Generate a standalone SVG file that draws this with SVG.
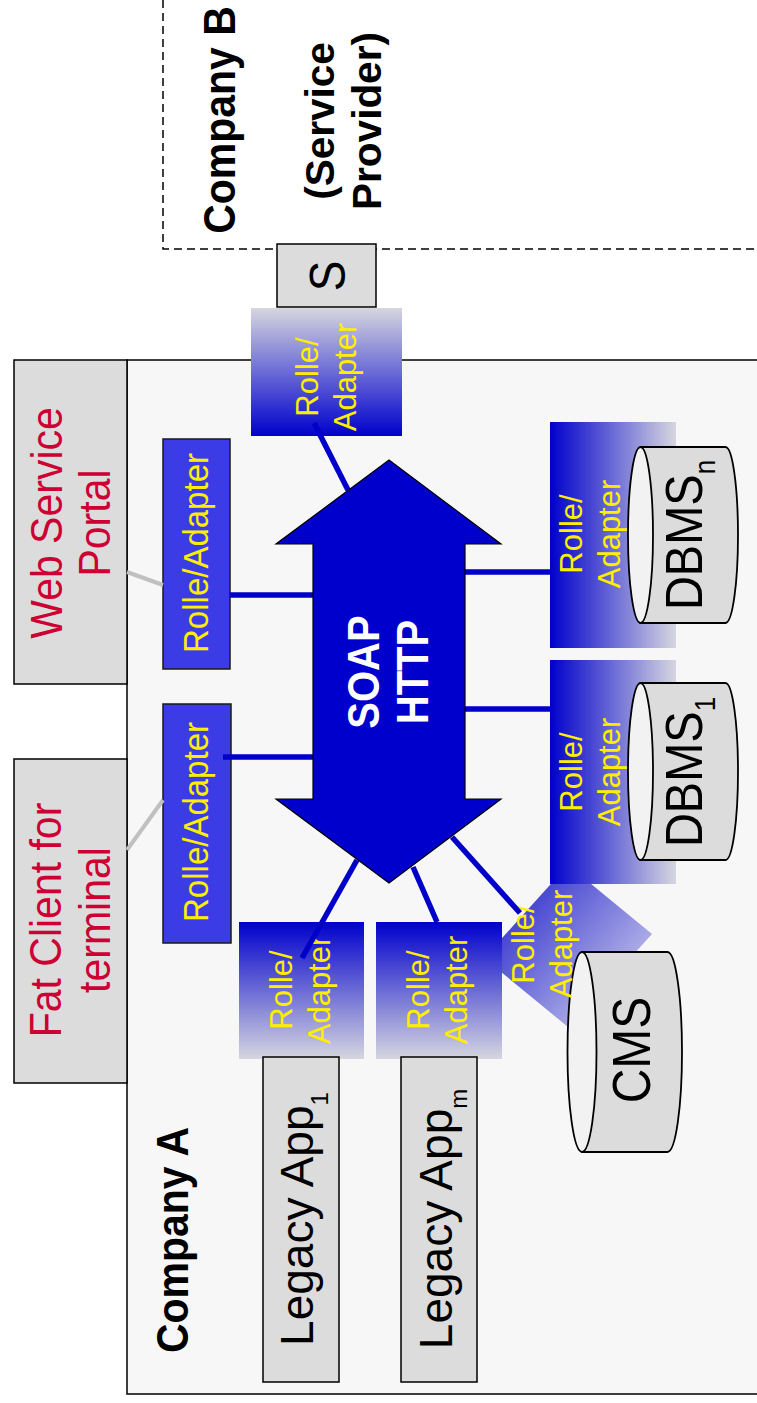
<svg xmlns="http://www.w3.org/2000/svg" width="757" height="1403" viewBox="0 0 757 1403">
<defs>
<linearGradient id="gTopLight" x1="0" y1="0" x2="0" y2="1"><stop offset="0" stop-color="#d6d6e0"/><stop offset="1" stop-color="#0000cc"/></linearGradient>
<linearGradient id="gTopBlue" x1="0" y1="0" x2="0" y2="1"><stop offset="0" stop-color="#0000cc"/><stop offset="1" stop-color="#d6d6e0"/></linearGradient>
<linearGradient id="gLeftBlue" x1="0" y1="0" x2="1" y2="0"><stop offset="0" stop-color="#0000cc"/><stop offset="1" stop-color="#d6d6e0"/></linearGradient>
<linearGradient id="gCms" gradientUnits="userSpaceOnUse" x1="526" y1="911" x2="610" y2="981"><stop offset="0" stop-color="#4848d2"/><stop offset="1" stop-color="#a8a8e6"/></linearGradient>
</defs>
<style>
text{font-family:"Liberation Sans",Arial,sans-serif;}
.b{font-weight:bold}
.mid{text-anchor:middle}
.box{fill:#dcdcdc;stroke:#000;stroke-width:1.5}
.rsolid{fill:#3c3ce6;stroke:#1a1a1a;stroke-width:1.5}
.ry{fill:#ffee00;font-size:31px;text-anchor:middle}
.rys{fill:#ffee00;font-size:33px;text-anchor:middle}
.blue{stroke:#0000c8;stroke-width:5.5;fill:none}
.gray{stroke:#c0c0c0;stroke-width:4;fill:none}
.cyl{fill:#dcdcdc;stroke:#000;stroke-width:1.8}
.face{fill:#f2f2f2;stroke:#000;stroke-width:1.8}
.red{fill:#cc0033;font-size:41px;text-anchor:middle}
.big{fill:#000;text-anchor:middle}
</style>

<g id="companyA">
<rect x="127" y="360" width="640" height="1034" fill="#f7f7f7" stroke="#000" stroke-width="1.5"/>
<text class="b mid" font-size="41" transform="translate(188,1240) rotate(-90) scale(1,1.1)">Company A</text>
</g>

<g id="companyB">
<path d="M163,0 V249 H757" fill="none" stroke="#000" stroke-width="1.5" stroke-dasharray="8 5"/>
<text class="b mid" font-size="41" transform="translate(235,120) rotate(-90) scale(1,1.1)">Company B</text>
<text class="b mid" font-size="40.5" transform="translate(334,121) rotate(-90)"><tspan x="0" y="0">(Service</tspan><tspan x="0" y="47">Provider)</tspan></text>
</g>

<g id="s">
<rect class="box" x="277" y="244" width="99" height="63"/>
<text class="big" font-size="46" transform="translate(345,276) rotate(-90) scale(1,1.08)">S</text>
</g>

<g id="webServicePortal">
<rect class="box" x="14" y="360" width="113" height="324"/>
<text class="red" transform="translate(62,523) rotate(-90) scale(1,1.08)"><tspan x="0" y="0">Web Service</tspan><tspan x="0" y="44.5">Portal</tspan></text>
</g>

<g id="fatClient">
<rect class="box" x="14" y="759" width="113" height="324"/>
<text class="red" transform="translate(61,920) rotate(-90) scale(1,1.08)"><tspan x="0" y="0">Fat Client for</tspan><tspan x="0" y="45.5">terminal</tspan></text>
</g>

<g id="rollePortal">
<rect class="rsolid" x="163" y="439" width="67" height="230"/>
<text class="rys" transform="translate(208,553) rotate(-90) scale(1,1.06)">Rolle/Adapter</text>
</g>

<g id="rolleFat">
<rect class="rsolid" x="163" y="704" width="68" height="239"/>
<text class="rys" transform="translate(208,822) rotate(-90) scale(1,1.06)">Rolle/Adapter</text>
</g>

<g id="rolleCms">
<polygon points="568,865 652,934 568,1027 484,958" fill="url(#gCms)"/>
</g>

<g id="rolleS">
<rect x="251" y="308" width="151" height="128" fill="url(#gTopLight)"/>
<text class="ry" transform="translate(318,377) rotate(-90)"><tspan x="0" y="0">Rolle/</tspan><tspan x="0" y="38">Adapter</tspan></text>
</g>

<g id="rolleDbmsN">
<rect x="550" y="422" width="126" height="226" fill="url(#gLeftBlue)"/>
<text class="ry" transform="translate(582,534) rotate(-90)"><tspan x="0" y="0">Rolle/</tspan><tspan x="0" y="38">Adapter</tspan></text>
</g>

<g id="rolleDbms1">
<rect x="550" y="660" width="126" height="224" fill="url(#gLeftBlue)"/>
<text class="ry" transform="translate(582,772) rotate(-90)"><tspan x="0" y="0">Rolle/</tspan><tspan x="0" y="38">Adapter</tspan></text>
</g>

<g id="rolleLegacy1">
<rect x="239" y="922" width="125" height="137" fill="url(#gTopBlue)"/>
<text class="ry" transform="translate(292,990) rotate(-90)"><tspan x="0" y="0">Rolle/</tspan><tspan x="0" y="38">Adapter</tspan></text>
</g>

<g id="rolleLegacyM">
<rect x="376" y="922" width="126" height="137" fill="url(#gTopBlue)"/>
<text class="ry" transform="translate(429,990) rotate(-90)"><tspan x="0" y="0">Rolle/</tspan><tspan x="0" y="38">Adapter</tspan></text>
</g>

<g id="dbmsN">
<path class="cyl" d="M640.5,447 H725.5 A12.5,88 0 0 1 725.5,623 H640.5 Z"/>
<ellipse class="face" cx="640.5" cy="535" rx="12.5" ry="88"/>
<text class="big" font-size="47" transform="translate(702,535) rotate(-90) scale(1,1.1)">DBMS<tspan font-size="26" dy="12">n</tspan></text>
</g>

<g id="dbms1">
<path class="cyl" d="M640.5,683 H725.5 A12.5,88.5 0 0 1 725.5,860 H640.5 Z"/>
<ellipse class="face" cx="640.5" cy="771.5" rx="12.5" ry="88.5"/>
<text class="big" font-size="47" transform="translate(702,772) rotate(-90) scale(1,1.1)">DBMS<tspan font-size="26" dy="12">1</tspan></text>
</g>

<g id="cms">
<path class="cyl" d="M582,952 H667.5 A14.5,100 0 0 1 667.5,1152 H582 Z"/>
<ellipse class="face" cx="582" cy="1052" rx="14.5" ry="100"/>
<text class="big" font-size="48" transform="translate(650,1050) rotate(-90) scale(1,1.1)">CMS</text>
</g>

<g id="rolleCmsText">
<text class="ry" transform="translate(534,944) rotate(-90)"><tspan x="0" y="0">Rolle/</tspan><tspan x="0" y="38">Adapter</tspan></text>
</g>

<g id="legacy1">
<rect class="box" x="263" y="1057" width="76" height="325"/>
<text class="big" font-size="46" transform="translate(313,1219) rotate(-90)">Legacy App<tspan font-size="24" dy="15">1</tspan></text>
</g>

<g id="legacyM">
<rect class="box" x="401" y="1057" width="76" height="325"/>
<text class="big" font-size="46" transform="translate(452,1219) rotate(-90)">Legacy App<tspan font-size="24" dy="15">m</tspan></text>
</g>

<g id="connectors">
<path class="gray" d="M127,572 L163,585"/>
<path class="gray" d="M127,850 L163,800"/>
<path class="blue" d="M314,423 L348,490"/>
<path class="blue" d="M230,595 H313"/>
<path class="blue" d="M223,757 H313"/>
<path class="blue" d="M465,572 H550"/>
<path class="blue" d="M465,709 H550"/>
<path class="blue" d="M357,860 L302,958"/>
<path class="blue" d="M413,867 L437,922"/>
<path class="blue" d="M452,837 L520,913"/>
</g>

<g id="soapHttp">
<polygon points="389,460 501,544 465,544 465,799 501,799 389,883 276,799 313,799 313,544 276,544" fill="#0000cc" stroke="#000" stroke-width="1.2"/>
<text class="b mid" font-size="40" fill="#fff" transform="translate(379,672) rotate(-90) scale(1,1.1)"><tspan x="0" y="0">SOAP</tspan><tspan x="0" y="44.5">HTTP</tspan></text>
</g>
</svg>
